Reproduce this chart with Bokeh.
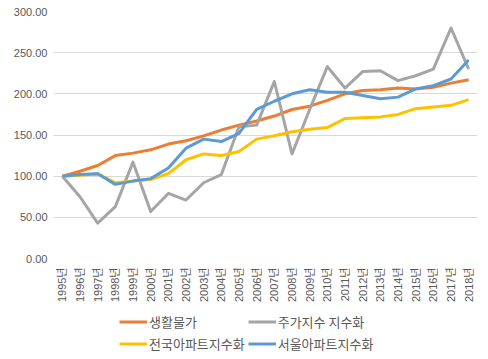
from bokeh.plotting import figure
from bokeh.layouts import column
from bokeh.models import (FactorRange, Range1d, FixedTicker, NumeralTickFormatter,
                          Legend, LegendItem, ColumnDataSource)
from bokeh.embed import file_html
from bokeh.resources import INLINE

years = [f"{y}년" for y in range(1995, 2019)]

living = [100, 106, 113, 125, 128, 132, 139, 143, 149, 156, 162, 167,
          173, 181, 185, 192, 200, 204, 205, 207, 206, 208, 213, 217]
stock = [100, 75, 43, 63, 117, 57, 79, 71, 92, 102, 160, 162,
         215, 127, 181, 233, 207, 227, 228, 216, 222, 230, 280, 230]
national = [100, 101, 103, 92, 94, 96, 103, 120, 127, 125, 130, 145,
            149, 154, 157, 159, 170, 171, 172, 175, 182, 184, 186, 193]
seoul = [100, 102, 103, 90, 94, 97, 110, 134, 145, 142, 152, 181,
         191, 200, 205, 202, 202, 198, 194, 196, 206, 210, 218, 241]

names = ["생활물가", "주가지수 지수화", "전국아파트지수화", "서울아파트지수화"]
colors = ["#ED7D31", "#A5A5A5", "#FFC000", "#5B9BD5"]
series = [living, stock, national, seoul]
y_ticks = [0, 50, 100, 150, 200, 250, 300]

FONT = "'Liberation Sans', 'Noto Sans CJK KR'"
KFONT = "'Noto Sans CJK KR'"
TXT = "#595959"

p = figure(width=488, height=305, x_range=FactorRange(*years),
           y_range=Range1d(0, 300), output_backend="svg",
           toolbar_location=None, min_border_left=53, min_border_right=11,
           min_border_top=11, min_border_bottom=45)
p.outline_line_color = None

p.yaxis.ticker = FixedTicker(ticks=y_ticks)
p.yaxis.formatter = NumeralTickFormatter(format="0.00")
p.yaxis.axis_line_color = None
p.yaxis.major_tick_line_color = None
p.yaxis.minor_tick_line_color = None
p.yaxis.major_tick_out = 0
p.yaxis.major_label_standoff = 6
p.yaxis.major_label_text_font = FONT
p.yaxis.major_label_text_font_size = "11px"
p.yaxis.major_label_text_color = TXT

p.xaxis.axis_line_color = None
p.xaxis.major_tick_line_color = None
p.xaxis.minor_tick_line_color = None
p.xaxis.major_tick_out = 0
p.xaxis.major_label_standoff = 9
p.xaxis.major_label_orientation = 3.14159265 / 2
p.xaxis.major_label_text_font = FONT
p.xaxis.major_label_text_font_size = "11px"
p.xaxis.major_label_text_color = TXT

p.xgrid.grid_line_color = None
p.ygrid.grid_line_color = "#D9D9D9"
p.ygrid.grid_line_width = 1

for name, col, vals in zip(names, colors, series):
    src = ColumnDataSource(dict(x=years, y=vals))
    p.line("x", "y", source=src, line_color=col, line_width=3,
           line_join="round")

# legend strip below the chart (legend-only renderers hold no visible points)
lg = figure(width=488, height=54, x_range=Range1d(0, 1), y_range=Range1d(0, 1),
            output_backend="svg", toolbar_location=None, min_border=0,
            x_axis_location=None, y_axis_location=None)
lg.outline_line_color = None
lg.grid.grid_line_color = None
nan = float("nan")
items = []
for name, col in zip(names, colors):
    r = lg.line(x=[nan], y=[nan], line_color=col, line_width=3)
    items.append(LegendItem(label=name, renderers=[r]))

legend = Legend(items=items, orientation="horizontal", ncols=2,
                location=(66, 6), label_text_font=KFONT,
                label_text_font_size="13px", label_text_color=TXT,
                glyph_width=28, glyph_height=17, label_height=17,
                label_standoff=2, spacing=3, padding=0, margin=0,
                border_line_color=None, background_fill_alpha=0)
lg.add_layout(legend, "center")

open("out.html", "w").write(file_html(column(p, lg), INLINE))
